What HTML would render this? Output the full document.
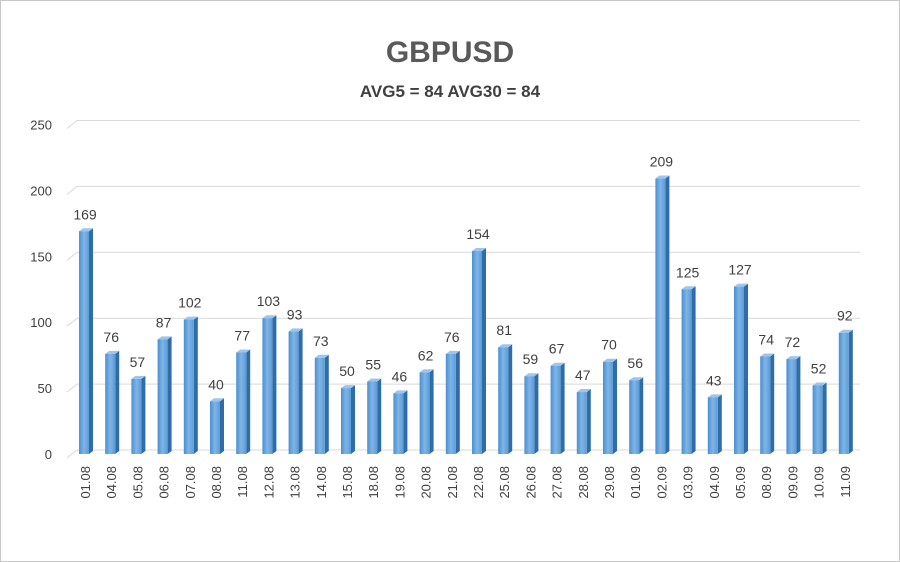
<!DOCTYPE html><html><head><style>body{margin:0;background:#fff}svg{display:block}</style></head><body>
<svg width="900" height="562" xmlns="http://www.w3.org/2000/svg" font-family="Liberation Sans, sans-serif">
<defs><linearGradient id="g" x1="0" x2="1"><stop offset="0" stop-color="#4a8fd0"/><stop offset="0.5" stop-color="#7fb5e6"/><stop offset="1" stop-color="#5b9bd8"/></linearGradient></defs>
<rect x="0.5" y="0.5" width="899" height="561" fill="#fff" stroke="#c8c8c8"/>
<text x="450" y="62" text-anchor="middle" font-size="30" font-weight="bold" fill="#595959">GBPUSD</text>
<text x="450" y="97" text-anchor="middle" font-size="17" font-weight="bold" fill="#404040">AVG5 = 84 AVG30 = 84</text>
<g stroke="#d9d9d9" stroke-width="1" fill="none" id="grid"></g>
<g id="bars"></g>
<script>
var v=[169,76,57,87,102,40,77,103,93,73,50,55,46,62,76,154,81,59,67,47,70,56,209,125,43,127,74,72,52,92];
var d=["01.08","04.08","05.08","06.08","07.08","08.08","11.08","12.08","13.08","14.08","15.08","18.08","19.08","20.08","21.08","22.08","25.08","26.08","27.08","28.08","29.08","01.09","02.09","03.09","04.09","05.09","08.09","09.09","10.09","11.09"];
var ns="http://www.w3.org/2000/svg",s=document.querySelector("svg");
function el(t,a,p,txt){var e=document.createElementNS(ns,t);for(var k in a)e.setAttribute(k,a[k]);if(txt!=null)e.textContent=txt;(p||s).appendChild(e);return e;}
var base=454,k=1.318,g=document.getElementById("grid");
for(var i=0;i<=5;i++){var y=base-i*50*k;
 el("polyline",{points:"67,"+(y+4)+" 77,"+(y-4)+" 860,"+(y-4)},g);
 el("text",{x:52,y:y+5,"text-anchor":"end","font-size":13,fill:"#404040"},null,String(i*50));}
for(var i=0;i<30;i++){var x=79+i*26.2,h=v[i]*k,t=base-h;
 el("polygon",{points:(x+10)+","+t+" "+(x+14)+","+(t-3)+" "+(x+14)+","+(base-3)+" "+(x+10)+","+base,fill:"#2f6da8"});
 el("polygon",{points:x+","+t+" "+(x+4)+","+(t-3)+" "+(x+14)+","+(t-3)+" "+(x+10)+","+t,fill:"#9cc6ee"});
 el("rect",{x:x,y:t,width:10,height:h,fill:"url(#g)"});
 el("text",{x:x+6,y:t-12,"text-anchor":"middle","font-size":14,fill:"#404040"},null,String(v[i]));
 el("text",{x:0,y:0,transform:"translate("+(x+11)+",466) rotate(-90)","text-anchor":"end","font-size":13,fill:"#404040"},null,d[i]);}
</script>
</svg></body></html>
